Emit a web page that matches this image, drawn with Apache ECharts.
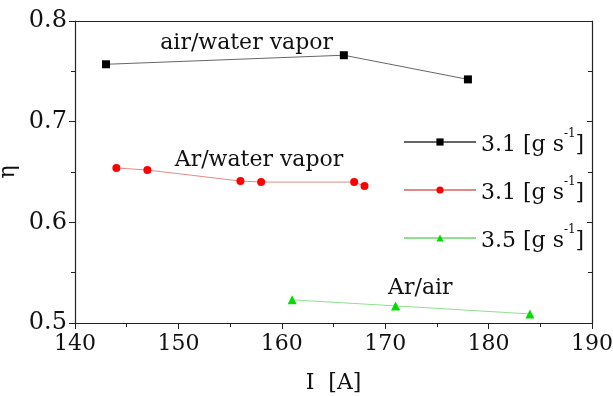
<!DOCTYPE html>
<html lang="en">
<head>
<meta charset="UTF-8">
<title>eta vs I</title>
<script src="https://cdn.jsdelivr.net/npm/echarts@6/dist/echarts.min.js"></script>
</head>
<body style="margin:0;background:#fff">
<div id="main" style="width:613px;height:396px;"></div>
<script>
// data
var airWaterI = [143, 166, 178];
var airWaterEta = [0.757, 0.766, 0.742];
var arWaterI = [144, 147, 156, 158, 167, 168];
var arWaterEta = [0.654, 0.652, 0.641, 0.640, 0.640, 0.636];
var arAirI = [161, 171, 184];
var arAirEta = [0.523, 0.517, 0.509];
var legendLabels = ['3.1', '3.1', '3.5'];
var seriesNames = ['air/water vapor', 'Ar/water vapor', 'Ar/air'];
// where the series names are written, in data units
var noteAt = [[156.6, 0.778], [157.8, 0.662], [173.4, 0.534]];

var font = 'DejaVu Serif';

function pairs(xs, ys) {
    return xs.map(function (x, i) { return [x, ys[i]]; });
}

function note(i) {
    return {
        symbol: 'circle',
        symbolSize: 1,
        itemStyle: { color: 'rgba(0,0,0,0)' },
        label: {
            show: true, formatter: seriesNames[i], color: '#111',
            fontFamily: font, fontSize: 22, position: 'inside'
        },
        data: [{ coord: noteAt[i] }]
    };
}

var myChart = echarts.init(document.getElementById('main'));

var axisLine = { show: true, lineStyle: { color: '#222', width: 1.2 } };
var option = {
    animation: false,
    grid: { left: 75, right: 21, top: 21, bottom: 73, outerBoundsMode: 'none' },
    legend: {
        orient: 'vertical',
        left: 398,
        top: 123,
        itemWidth: 72,
        itemHeight: 9,
        itemGap: 20,
        data: seriesNames,
        formatter: function (name) {
            var k = seriesNames.indexOf(name);
            return '{a|' + legendLabels[k] + ' [g s}{s|-1}{a|]}';
        },
        textStyle: {
            rich: {
                a: { fontFamily: font, fontSize: 22, color: '#111', padding: [6, 0, 0, 0] },
                s: { fontFamily: font, fontSize: 12, color: '#111', verticalAlign: 'top', padding: [0, 0, 8, 0] }
            }
        }
    },
    xAxis: [{
        type: 'value', min: 140, max: 190, interval: 10,
        name: 'I  [A]', nameLocation: 'middle', nameGap: 49, nameMoveOverlap: false,
        nameTextStyle: { fontFamily: font, fontSize: 22, color: '#111' },
        axisLine: axisLine,
        axisTick: { show: true, length: 6, lineStyle: { color: '#222' } },
        minorTick: { show: true, splitNumber: 2, length: 4, lineStyle: { color: '#222' } },
        splitLine: { show: false },
        axisLabel: { fontFamily: font, fontSize: 22, color: '#111', margin: 10 }
    }, {
        type: 'value', min: 140, max: 190, interval: 10, position: 'top',
        axisLine: axisLine, axisTick: { show: false }, axisLabel: { show: false },
        splitLine: { show: false }
    }],
    yAxis: [{
        type: 'value', min: 0.5, max: 0.8, interval: 0.1,
        name: 'η', nameLocation: 'middle', nameGap: 56, nameRotate: 90, nameMoveOverlap: false,
        nameTextStyle: { fontFamily: font, fontSize: 22, color: '#111' },
        axisLine: axisLine,
        axisTick: { show: true, length: 6, lineStyle: { color: '#222' } },
        minorTick: { show: true, splitNumber: 2, length: 4, lineStyle: { color: '#222' } },
        splitLine: { show: false },
        axisLabel: {
            fontFamily: font, fontSize: 24, color: '#111', margin: 8,
            formatter: function (v) { return v.toFixed(1); }
        }
    }, {
        type: 'value', min: 0.5, max: 0.8, interval: 0.1, position: 'right',
        axisLine: axisLine,
        axisTick: { show: true, inside: true, length: 5, lineStyle: { color: '#222' } },
        minorTick: { show: true, splitNumber: 2, length: 4, lineStyle: { color: '#222' } },
        axisLabel: { show: false }, splitLine: { show: false }
    }],
    series: [{
        name: seriesNames[0], type: 'line',
        data: pairs(airWaterI, airWaterEta),
        symbol: 'rect', symbolSize: 8,
        itemStyle: { color: '#000' },
        lineStyle: { color: '#666', width: 1 },
        markPoint: note(0)
    }, {
        name: seriesNames[1], type: 'line',
        data: pairs(arWaterI, arWaterEta),
        symbol: 'circle', symbolSize: 8,
        itemStyle: { color: '#f00' },
        lineStyle: { color: '#e08a8a', width: 1 },
        markPoint: note(1)
    }, {
        name: seriesNames[2], type: 'line',
        data: pairs(arAirI, arAirEta),
        symbol: 'triangle', symbolSize: 9,
        itemStyle: { color: '#0d0' },
        lineStyle: { color: '#8fe08f', width: 1 },
        markPoint: note(2)
    }]
};
myChart.setOption(option);
</script>
</body>
</html>
